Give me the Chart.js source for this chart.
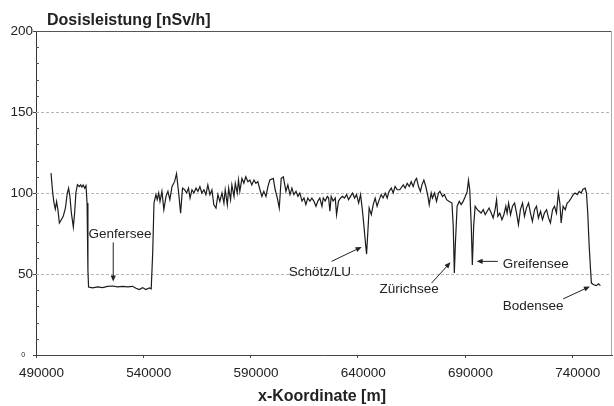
<!DOCTYPE html>
<html>
<head>
<meta charset="utf-8">
<script src="https://cdn.jsdelivr.net/npm/chart.js@4/dist/chart.umd.min.js"></script>
<style>
  html, body { margin: 0; padding: 0; background: #fff; }
  #wrap { width: 614px; height: 406px; }
</style>
</head>
<body>
<div id="wrap"><canvas id="dose" width="614" height="406"></canvas></div>
<script>
/* global Chart */

// x-Koordinate [m] along the flight line
const xCoord = [
  497000, 497800, 498400, 499000, 499600, 500200, 500900, 501800, 502700, 503700,
  504600, 505200, 505800, 506500, 507400, 508000, 508600, 509300, 510200, 510800,
  511400, 512000, 512700, 513300, 513800, 514200, 514500, 516400, 518700, 521000,
  523400, 525700, 528000, 530400, 532700, 535000, 536600, 538100, 539700, 541200,
  542800, 543700, 544400, 545000, 545900, 546500, 547200, 547800, 548700, 549600,
  550600, 551500, 552400, 553400, 554600, 555500, 556500, 557400, 558300, 559300,
  560200, 561100, 561800, 562700, 563600, 564600, 565500, 566400, 567300, 568300,
  569200, 570100, 571100, 572000, 572900, 573900, 574800, 575700, 576700, 577600,
  578200, 579200, 579800, 580700, 581300, 582300, 582900, 583800, 584400, 585000,
  586000, 586900, 587800, 588800, 589700, 590600, 591600, 592500, 593400, 594400,
  595300, 596200, 597200, 598100, 599000, 600600, 601500, 602500, 603400, 604300,
  605300, 606500, 607400, 608400, 609300, 610200, 611200, 612100, 613000, 614000,
  614900, 615800, 616700, 617700, 618600, 619500, 620500, 621400, 622300, 623300,
  623900, 624800, 625800, 626400, 627000, 627600, 628500, 629500, 630100, 631000,
  632000, 632900, 633800, 634800, 635700, 636600, 637600, 638500, 639400, 640400,
  641300, 642200, 642800, 643500, 644100, 644700, 645300, 646300, 647200, 648100,
  649000, 650000, 650900, 651800, 652800, 653700, 654600, 655600, 656500, 657400,
  658400, 659600, 661200, 662100, 663000, 664000, 664900, 665800, 666800, 667400,
  668300, 669200, 669900, 670800, 671700, 672700, 673300, 674200, 674800, 675800,
  676700, 677600, 678300, 679500, 680400, 681400, 682600, 683900, 684500, 685000,
  685500, 686300, 687300, 688200, 689100, 690100, 691000, 691600, 692200, 692900,
  693400, 694000, 694700, 695700, 696600, 697500, 698500, 699400, 700300, 701200,
  702200, 703100, 704000, 704700, 705300, 706200, 707200, 708100, 709000, 709600,
  710300, 711200, 712100, 713100, 714000, 714900, 715800, 716800, 717700, 718600,
  719600, 720500, 721400, 722400, 723300, 724200, 725200, 726100, 727000, 728000,
  728900, 729800, 730800, 731700, 732600, 733500, 734200, 734800, 735700, 736700,
  737600, 738500, 739500, 740400, 741300, 742300, 743200, 744100, 745000, 746000,
  746600, 747200, 747800, 748500, 748900, 750000, 751200, 752200, 753100
]

// Dosisleistung [nSv/h]
const doseRate = [
  112.3, 100, 93.8, 90.1, 94.8, 89.7, 81.5, 83.5, 85.6, 90.7,
  100, 103, 97.9, 87.6, 79, 87.6, 100, 105.1, 104, 105,
  103.7, 105, 103, 104.5, 93.8, 52.6, 42, 41.4, 42, 41.6,
  42.4, 42.6, 42, 42.4, 42, 42.4, 41.2, 40.4, 41.6, 40.4,
  41.4, 40.8, 63, 93.8, 99, 95.9, 100, 94.8, 101, 89.7,
  97.9, 101, 95.9, 104, 107, 111.9, 100, 87.6, 103, 102,
  100, 103, 96.9, 102, 100, 103, 101, 104, 100, 102,
  99, 105, 99, 102, 92.7, 90.7, 99, 94.8, 100, 93.8,
  102, 92.7, 103, 95.9, 105, 97.9, 106, 100, 108, 101,
  109, 106, 110, 107, 108, 105, 108, 106, 107, 102,
  97.9, 101, 97.9, 104, 108, 109, 102, 96.9, 90.7, 109,
  110, 101, 105, 99, 103, 99, 101, 97.9, 100, 95,
  96.9, 92.8, 96.9, 95, 96.9, 95, 91.8, 95, 96.9, 91.8,
  96.9, 95, 97.9, 96.9, 88.7, 97.9, 95, 96.9, 86.6, 95,
  96.9, 97.9, 96.9, 99, 95.9, 97.9, 100, 96.9, 99, 93.8,
  99, 88.7, 80.5, 70.2, 62.3, 76.3, 90.7, 86.6, 92.8, 96.9,
  91.8, 95.9, 99, 96.9, 100, 96.9, 101, 103, 100, 104,
  102, 102, 105, 103, 106, 104, 107, 104, 108, 109,
  104, 101, 105, 108, 104, 97.9, 92.8, 100, 96.9, 100,
  94.8, 100, 101, 97.9, 99, 95.9, 94.8, 93.8, 79.4, 50.6,
  69, 91.8, 94.8, 92.8, 94.8, 97.9, 101, 107.8, 102, 79.4,
  55.5, 79.4, 91.8, 89.7, 88.7, 87.6, 89.7, 86.6, 88.7, 90.7,
  87.6, 84.6, 89.7, 95.9, 85.6, 87.6, 83.5, 86.6, 91.8, 87.6,
  93.8, 86.6, 91.8, 93.8, 87.6, 80.5, 89.7, 93.8, 85.6, 90.7,
  93.8, 87.6, 82.5, 89.7, 91.8, 84.6, 88.7, 83.5, 87.6, 89.7,
  84.6, 81.5, 89.7, 91.8, 87.6, 100, 93.8, 81.5, 91.8, 89.7,
  93.8, 94.8, 96.9, 99, 100, 99, 101, 100, 102.4, 103,
  100, 87.6, 69, 52.6, 44.4, 43.4, 42.8, 44, 42.8
]

const xTicks = [490000, 540000, 590000, 640000, 690000, 740000]
const yTicks = [0, 50, 100, 150, 200]
const yGrid = [50, 100, 150]

// lake labels: text baseline anchor and arrow, all in data units
const notes = [
  { text: 'Genfersee', x: 529200, y: 72.4, from: [526000, 69.5], to: [526000, 45.4] },
  { text: 'Schötz/LU', x: 622300, y: 48.6, from: [627800, 57.8], to: [641800, 66.7] },
  { text: 'Zürichsee', x: 663900, y: 38.5, from: [674400, 44.4], to: [683200, 57.2] },
  { text: 'Greifensee', x: 723000, y: 53.7, from: [705300, 57.8], to: [695400, 57.8] },
  { text: 'Bodensee', x: 721700, y: 28, from: [735700, 34.6], to: [748200, 42.3] }
]

const FONT = "'Liberation Sans', Arial, sans-serif"
const INK = '#222'

const points = xCoord.map((x, i) => ({ x, y: doseRate[i] }))

function arrow (ctx, x1, y1, x2, y2) {
  const ang = Math.atan2(y2 - y1, x2 - x1)
  const len = 6
  const half = 2.6
  ctx.beginPath()
  ctx.moveTo(x1, y1)
  ctx.lineTo(x2 - Math.cos(ang) * len * 0.6, y2 - Math.sin(ang) * len * 0.6)
  ctx.stroke()
  ctx.beginPath()
  ctx.moveTo(x2, y2)
  ctx.lineTo(x2 - Math.cos(ang) * len - Math.sin(ang) * half, y2 - Math.sin(ang) * len + Math.cos(ang) * half)
  ctx.lineTo(x2 - Math.cos(ang) * len + Math.sin(ang) * half, y2 - Math.sin(ang) * len - Math.cos(ang) * half)
  ctx.closePath()
  ctx.fill()
}

const framePlugin = {
  id: 'frame',
  beforeDatasetsDraw (chart) {
    const { ctx, chartArea: a, scales: { y } } = chart
    ctx.save()
    ctx.lineWidth = 1
    ctx.strokeStyle = '#b4b4b4'
    ctx.setLineDash([3, 2])
    yGrid.forEach(v => {
      const py = Math.round(y.getPixelForValue(v)) + 0.5
      ctx.beginPath()
      ctx.moveTo(a.left, py)
      ctx.lineTo(a.right, py)
      ctx.stroke()
    })
    ctx.setLineDash([])
    // top edge at 200 and right edge
    ctx.strokeStyle = '#555'
    const top = Math.round(y.getPixelForValue(200)) + 0.5
    ctx.beginPath()
    ctx.moveTo(a.left, top)
    ctx.lineTo(a.right, top)
    ctx.stroke()
    ctx.strokeStyle = '#aaa'
    ctx.beginPath()
    ctx.moveTo(Math.round(a.right) - 0.5, a.top)
    ctx.lineTo(Math.round(a.right) - 0.5, a.bottom)
    ctx.stroke()
    // minor ticks every 10 on the y axis
    ctx.strokeStyle = '#555'
    for (let v = 10; v < 200; v += 10) {
      if (v % 50 === 0) continue
      const py = Math.round(y.getPixelForValue(v)) + 0.5
      ctx.beginPath()
      ctx.moveTo(a.left, py)
      ctx.lineTo(a.left + 3, py)
      ctx.stroke()
    }
    ctx.restore()
  }
}

const notesPlugin = {
  id: 'notes',
  afterDatasetsDraw (chart) {
    const { ctx, scales: { x, y } } = chart
    ctx.save()
    ctx.fillStyle = INK
    ctx.strokeStyle = INK
    ctx.lineWidth = 1
    ctx.textBaseline = 'alphabetic'
    ctx.textAlign = 'center'
    ctx.font = '13.5px ' + FONT
    notes.forEach(n => {
      ctx.fillText(n.text, x.getPixelForValue(n.x), y.getPixelForValue(n.y))
      arrow(ctx,
        x.getPixelForValue(n.from[0]), y.getPixelForValue(n.from[1]),
        x.getPixelForValue(n.to[0]), y.getPixelForValue(n.to[1]))
    })
    ctx.font = 'bold 16px ' + FONT
    ctx.textAlign = 'left'
    ctx.fillText('Dosisleistung [nSv/h]', 47, 25)
    ctx.textAlign = 'center'
    ctx.fillText('x-Koordinate [m]', 322, 401)
    ctx.restore()
  }
}

new Chart(document.getElementById('dose'), {
  type: 'line',
  data: {
    datasets: [{
      data: points,
      borderColor: '#1c1c1c',
      borderWidth: 1.2,
      pointRadius: 0,
      tension: 0,
      fill: false
    }]
  },
  options: {
    responsive: false,
    animation: false,
    layout: { padding: { top: 31, right: 2, left: 0, bottom: 0 } },
    plugins: { legend: { display: false }, tooltip: { enabled: false } },
    scales: {
      x: {
        type: 'linear',
        min: 490000,
        max: 758500,
        afterFit: s => { s.height = 51 },
        afterBuildTicks: s => { s.ticks = xTicks.map(v => ({ value: v })) },
        ticks: {
          callback: v => String(v),
          color: INK,
          font: { family: FONT, size: 13.5 },
          padding: 7,
          labelOffset: 5.5,
          maxRotation: 0,
          autoSkip: false
        },
        grid: { drawOnChartArea: false, tickLength: 3, color: '#444' },
        border: { color: '#444', width: 1 }
      },
      y: {
        min: 0,
        max: 200,
        afterFit: s => { s.width = 36 },
        afterBuildTicks: s => { s.ticks = yTicks.map(v => ({ value: v })) },
        ticks: {
          callback: v => v === 0 ? '0    ' : String(v),
          color: INK,
          font: c => ({ family: FONT, size: c.tick && c.tick.value === 0 ? 7 : 13.5 }),
          padding: 0
        },
        grid: { drawOnChartArea: false, tickLength: 3, color: '#444' },
        border: { color: '#333', width: 1 }
      }
    }
  },
  plugins: [framePlugin, notesPlugin]
})
</script>
</body>
</html>
